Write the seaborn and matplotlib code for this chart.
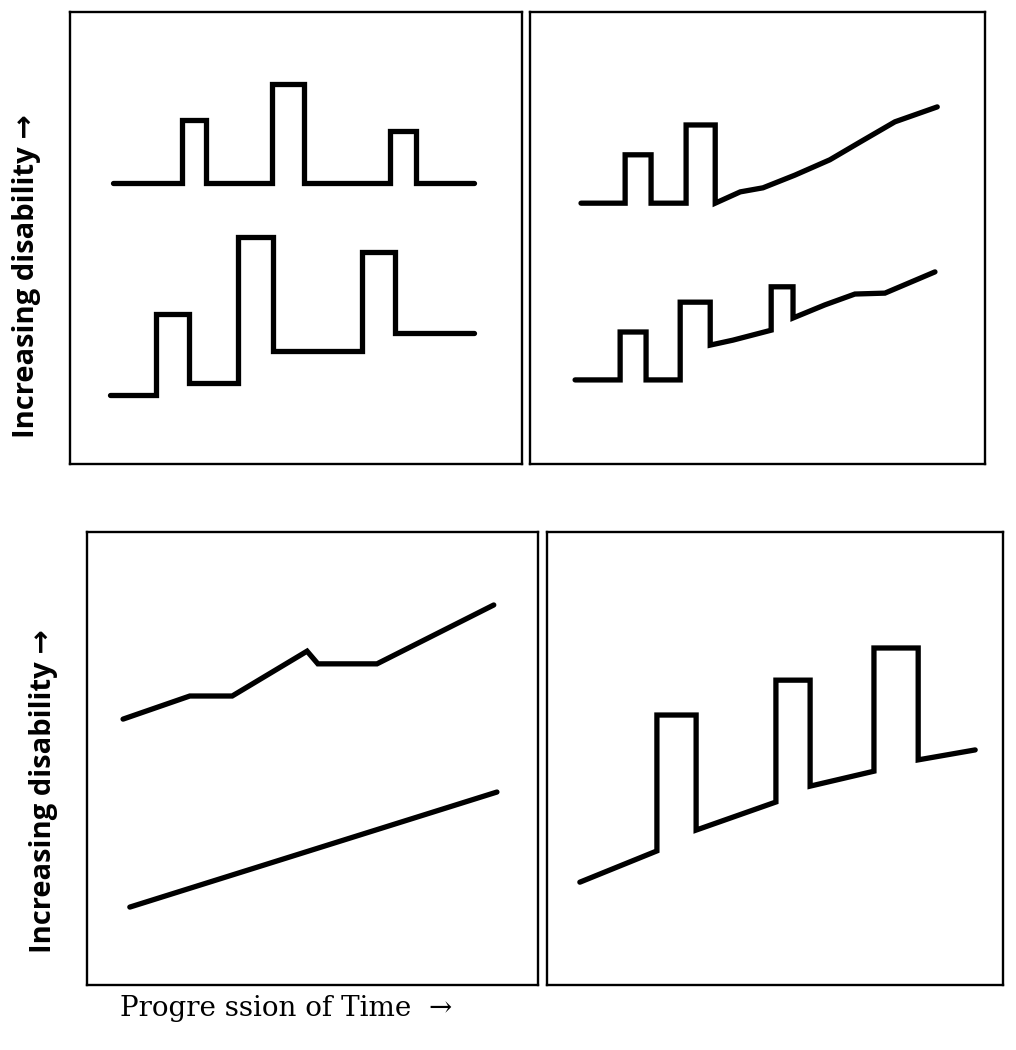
import matplotlib
matplotlib.use("Agg")
import matplotlib.pyplot as plt
import seaborn as sns

sns.set_style("white")

# panel 1 (top-left): relapsing-remitting
tl_a_x = [9.5, 24.8, 24.8, 30.1, 30.1, 44.7, 44.7, 51.8, 51.8, 70.8, 70.8, 76.5, 76.5, 89.4]
tl_a_y = [62.2, 62.2, 76.1, 76.1, 62.2, 62.2, 84.1, 84.1, 62.2, 62.2, 73.7, 73.7, 62.2, 62.2]
tl_b_x = [8.8, 19.0, 19.0, 26.3, 26.3, 37.2, 37.2, 44.9, 44.9, 64.6, 64.6, 71.9, 71.9, 89.4]
tl_b_y = [15.3, 15.3, 33.2, 33.2, 17.9, 17.9, 50.2, 50.2, 25.0, 25.0, 46.9, 46.9, 29.0, 29.0]

# panel 2 (top-right): secondary progressive
tr_a_x = [11.2, 20.9, 20.9, 26.6, 26.6, 34.3, 34.3, 40.7, 40.7, 46.2, 51.2, 58.2, 65.9, 72.5, 80.2, 89.5]
tr_a_y = [57.7, 57.7, 68.4, 68.4, 57.7, 57.7, 75.0, 75.0, 57.7, 60.2, 61.1, 63.9, 67.3, 71.2, 75.7, 79.0]
tr_b_x = [9.9, 19.8, 19.8, 25.5, 25.5, 33.0, 33.0, 39.6, 39.6, 44.6, 53.0, 53.0, 57.8, 57.8, 64.8, 71.4, 78.0, 89.0]
tr_b_y = [18.6, 18.6, 29.2, 29.2, 18.6, 18.6, 35.8, 35.8, 26.3, 27.4, 29.6, 39.2, 39.2, 32.3, 35.2, 37.6, 37.8, 42.5]

# panel 3 (bottom-left): primary progressive
bl_a_x = [8.0, 22.8, 32.2, 48.8, 51.2, 64.3, 90.2]
bl_a_y = [58.7, 63.8, 63.8, 73.7, 70.9, 70.9, 83.9]
bl_b_x = [9.5, 90.9]
bl_b_y = [17.2, 42.6]

# panel 4 (bottom-right): progressive relapsing
br_x = [7.2, 24.1, 24.1, 32.7, 32.7, 50.2, 50.2, 57.7, 57.7, 71.7, 71.7, 81.4, 81.4, 93.9]
br_y = [22.7, 29.6, 59.6, 59.6, 34.2, 40.4, 67.3, 67.3, 43.9, 47.2, 74.4, 74.4, 49.7, 51.9]

panels = [
    ([0.0689, 0.5581, 0.4449, 0.4305], [(tl_a_x, tl_a_y), (tl_b_x, tl_b_y)]),
    ([0.5217, 0.5581, 0.4478, 0.4305], [(tr_a_x, tr_a_y), (tr_b_x, tr_b_y)]),
    ([0.0856, 0.0619, 0.4439, 0.4314], [(bl_a_x, bl_a_y), (bl_b_x, bl_b_y)]),
    ([0.5384, 0.0619, 0.4488, 0.4314], [(br_x, br_y)]),
]

fig = plt.figure(figsize=(10.16, 10.5), dpi=100)

for rect, lines in panels:
    ax = fig.add_axes(rect)
    for xs, ys in lines:
        sns.lineplot(x=xs, y=ys, sort=False, estimator=None, color="black",
                     linewidth=3.8, ax=ax, solid_joinstyle="miter")
    ax.set_xlim(0, 100)
    ax.set_ylim(0, 100)
    ax.set_xticks([])
    ax.set_yticks([])
    for s in ax.spines.values():
        s.set_visible(True)
        s.set_color("black")
        s.set_linewidth(1.7)

ylab = "Increasing disability \u2192"
fig.text(27 / 1016, 1 - 276 / 1050, ylab, rotation=90,
         ha="center", va="center", fontsize=21, fontweight="bold",
         color="black", family=["Open Sans", "DejaVu Sans"])
fig.text(44 / 1016, 1 - 791 / 1050, ylab, rotation=90,
         ha="center", va="center", fontsize=21, fontweight="bold",
         color="black", family=["Open Sans", "DejaVu Sans"])
fig.text(120 / 1016, 1 - 1008 / 1050, "Progre ssion of Time  \u2192",
         ha="left", va="center", fontsize=20, color="black",
         family=["DejaVu Serif"])

fig.savefig("out.png", dpi=100)
